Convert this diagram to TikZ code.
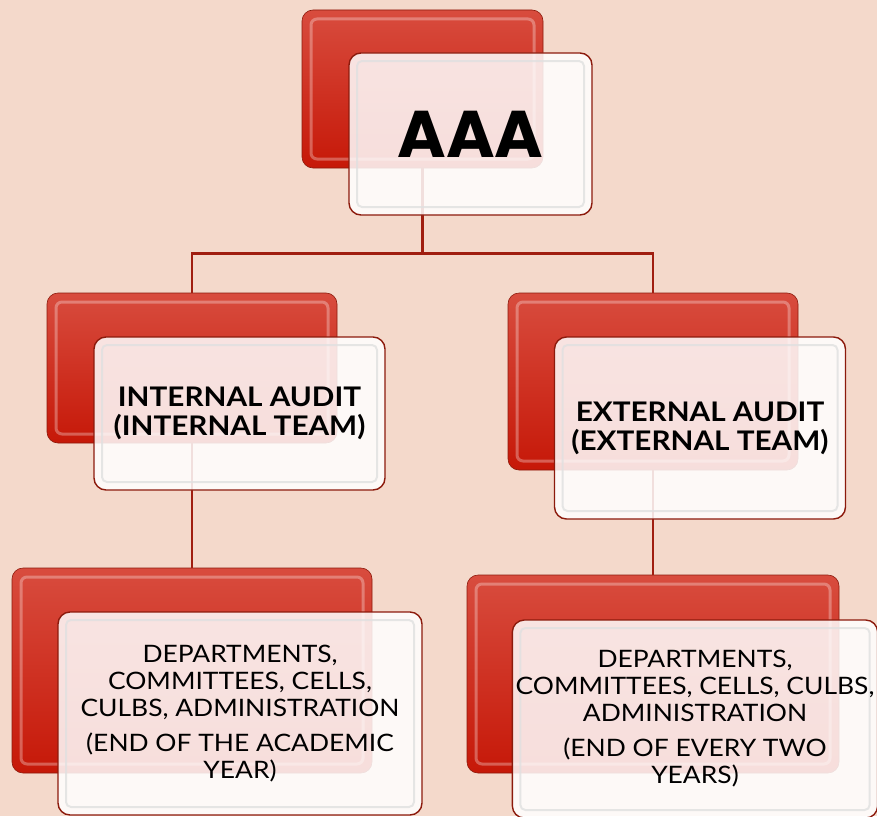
\documentclass[tikz,border=0pt]{standalone}
\usepackage{fontspec}
\setmainfont{Lato}[FakeStretch=1.1]
\newfontfamily\aaafont{Poppins}
\usepackage{tikz}
\usepackage{xcolor}
\definecolor{peach}{RGB}{244,217,203}
\definecolor{redtop}{RGB}{216,76,62}
\definecolor{redbot}{RGB}{198,24,8}
\definecolor{redline}{RGB}{160,30,16}
\definecolor{rim}{RGB}{140,26,12}
\tikzstyle{back} = [rounded corners=11pt, draw=rim, line width=.6pt, top color=redtop, bottom color=redbot,
  path picture={\draw[white, opacity=.3, line width=3pt, rounded corners=6pt]
    ([xshift=9pt,yshift=-9pt]path picture bounding box.north west) rectangle
    ([xshift=-9pt,yshift=9pt]path picture bounding box.south east);}]
\tikzstyle{front} = [rounded corners=12pt, draw=rim, line width=1.4pt, fill=white, fill opacity=.86, text opacity=1,
  align=center, text=black,
  path picture={\draw[black!12, opacity=.8, line width=2pt, rounded corners=5pt]
    ([xshift=8pt,yshift=-8pt]path picture bounding box.north west) rectangle
    ([xshift=-8pt,yshift=8pt]path picture bounding box.south east);}]
\tikzstyle{head} = [front, font={\bfseries\fontsize{27}{29}\selectfont}]
\tikzstyle{body} = [front, font={\fontsize{24}{27}\selectfont}]
\tikzstyle{link} = [draw, line width=2.6pt, redline]
\begin{document}
\begin{tikzpicture}[x=1pt, y=-1pt]

	\useasboundingbox[fill=peach] (0,0) rectangle (877,816);

	% red boxes behind
	\node[back, minimum width=241pt, minimum height=158pt] (aaaback) at (422.5, 89) {};
	\node[back, minimum width=290pt, minimum height=150pt] (intback) at (192, 368) {};
	\node[back, minimum width=290pt, minimum height=177pt] (extback) at (653, 381.5) {};
	\node[back, minimum width=360pt, minimum height=205pt] (intlowback) at (192, 670.5) {};
	\node[back, minimum width=372pt, minimum height=198pt] (extlowback) at (653, 674) {};

	\draw[link] (aaaback.south) -- ++(0,85) -| (intback.north);
	\draw[link] (aaaback.south) -- ++(0,85) -| (extback.north);
	\draw[link] (intback.south) -- (intlowback.north);
	\draw[link] (extback.south) -- (extlowback.north);

	% white boxes in front
	\node[front, minimum width=243pt, minimum height=162pt, font={\aaafont\bfseries\fontsize{66}{66}\selectfont}] (aaa) at (470.5, 134) {AAA};
	\node[head, minimum width=291pt, minimum height=153pt] (int) at (239.5, 413.5)
		{INTERNAL AUDIT\\(INTERNAL TEAM)};
	\node[head, minimum width=291pt, minimum height=182pt] (ext) at (700, 428)
		{EXTERNAL AUDIT\\(EXTERNAL TEAM)};
	\node[body, minimum width=364pt, minimum height=203pt] (intlow) at (240, 713.5)
		{DEPARTMENTS,\\COMMITTEES, CELLS,\\CULBS, ADMINISTRATION\\[8pt](END OF THE ACADEMIC\\YEAR)};
	\node[body, minimum width=364pt, minimum height=198pt] (extlow) at (695, 719)
		{DEPARTMENTS,\\COMMITTEES, CELLS, CULBS,\\ADMINISTRATION\\[8pt](END OF EVERY TWO\\YEARS)};

\end{tikzpicture}
\end{document}
